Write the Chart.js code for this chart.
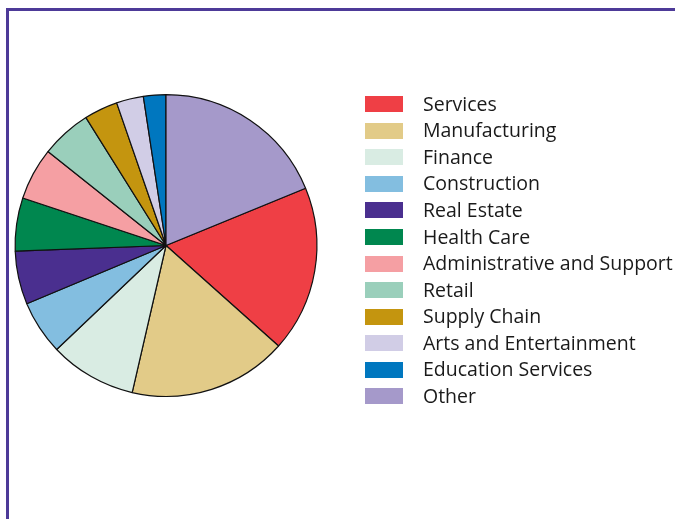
<!DOCTYPE html>
<html>
<head>
<meta charset="utf-8">
<script src="https://cdn.jsdelivr.net/npm/chart.js@4"></script>
<style>
  html, body { margin: 0; padding: 0; background: #fff; }
  body { width: 675px; height: 519px; position: relative; overflow: hidden; font-family: "Open Sans", sans-serif; }
  #frame { position: absolute; left: 6px; top: 8px; width: 700px; height: 540px;
           border-left: 3px solid #4d3a98; border-top: 3px solid #4d3a98; }
  #wrap { position: absolute; left: 0; top: 0; width: 675px; height: 519px; }
  #legend { position: absolute; left: 365px; top: 91px; margin: 0; padding: 0; list-style: none; }
  #legend li { height: 26.55px; display: flex; align-items: center; white-space: nowrap; }
  #legend .box { width: 38px; height: 16px; margin-right: 20px; flex: none; }
  #legend .txt { font-size: 19.5px; color: #1a1a1a; position: relative; top: -1px; }
</style>
</head>
<body>
<div id="frame"></div>
<div id="wrap"><canvas id="pieChart" width="675" height="519"></canvas></div>
<ul id="legend"></ul>
<script>
// Industry breakdown (percent of total)
const categories = ['Services', 'Manufacturing', 'Finance', 'Construction', 'Real Estate', 'Health Care',
  'Administrative and Support', 'Retail', 'Supply Chain', 'Arts and Entertainment', 'Education Services', 'Other'];
const shares = [17.8, 17.0, 9.3, 5.8, 5.7, 5.7, 5.6, 5.4, 3.6, 2.9, 2.4, 18.8];
const colors = ['#ef3f45', '#e2cb88', '#d9ece3', '#83bee0', '#4a2f8f', '#00874f',
  '#f59fa3', '#9acfbb', '#c4950f', '#d1cde6', '#0077bf', '#a599ca'];

// "Other" is drawn from 12 o'clock, so the first slice starts where it ends
const total = shares.reduce((s, v) => s + v, 0);
const startAngle = shares[shares.length - 1] / total * 360;

const ctx = document.getElementById('pieChart').getContext('2d');
const chart = new Chart(ctx, {
  type: 'pie',
  data: {
    labels: categories,
    datasets: [{
      data: shares,
      backgroundColor: colors,
      borderColor: '#111',
      borderWidth: 1.2
    }]
  },
  options: {
    responsive: false,
    animation: false,
    rotation: startAngle,
    layout: { padding: { left: 14.5, top: 94, right: 357.5, bottom: 122 } },
    plugins: {
      legend: { display: false },
      tooltip: { enabled: false }
    }
  }
});

// Legend list built from the same arrays
const legendEl = document.getElementById('legend');
legendEl.innerHTML = categories.map((c, i) => `
  <li><span class="box" style="background:${colors[i]}"></span><span class="txt">${c}</span></li>
`).join('');
</script>
</body>
</html>
